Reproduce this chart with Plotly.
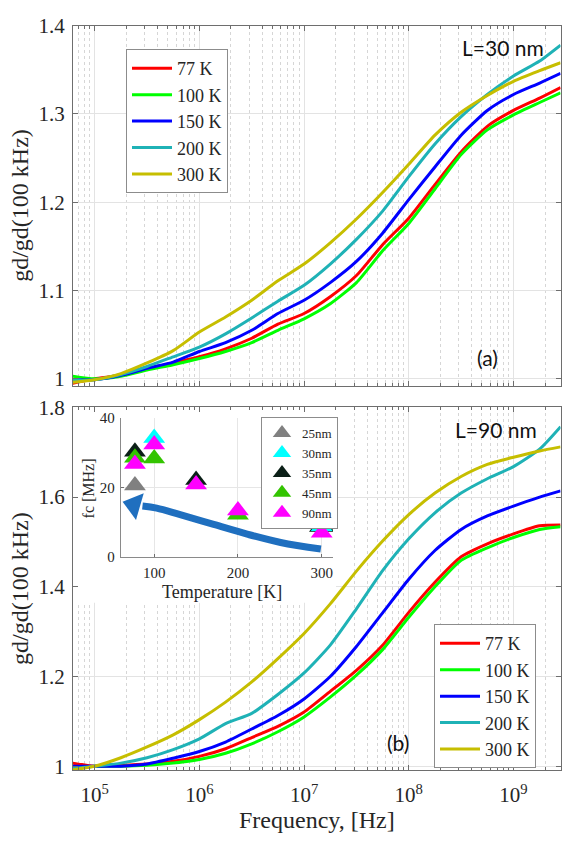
import plotly.graph_objects as go

# ---------------- data ----------------
log10_freq = [4.79, 5.0, 5.25, 5.5, 5.75, 6.0, 6.25, 6.5, 6.75, 7.0,
              7.25, 7.5, 7.75, 8.0, 8.25, 8.5, 8.75, 9.0, 9.25, 9.45]
temps = ["77 K", "100 K", "150 K", "200 K", "300 K"]
curve_colors = ["#ff0000", "#00ff00", "#0000ff", "#1fb2b6", "#c6be00"]

# (a) L = 30 nm
top_77K = [0.995, 1.000, 1.004, 1.011, 1.018, 1.025, 1.034, 1.046, 1.062, 1.074,
           1.093, 1.117, 1.152, 1.182, 1.220, 1.257, 1.286, 1.304, 1.318, 1.330]
top_100K = [1.003, 1.000, 1.003, 1.010, 1.016, 1.023, 1.031, 1.041, 1.055, 1.068,
            1.085, 1.109, 1.145, 1.176, 1.215, 1.254, 1.282, 1.299, 1.313, 1.324]
top_150K = [0.999, 0.999, 1.004, 1.012, 1.019, 1.031, 1.041, 1.055, 1.074, 1.089,
            1.109, 1.133, 1.165, 1.203, 1.240, 1.276, 1.304, 1.322, 1.335, 1.346]
top_200K = [0.998, 0.999, 1.005, 1.014, 1.025, 1.036, 1.051, 1.069, 1.088, 1.106,
            1.130, 1.158, 1.190, 1.229, 1.266, 1.297, 1.322, 1.343, 1.360, 1.378]
top_300K = [0.996, 0.999, 1.006, 1.018, 1.032, 1.053, 1.070, 1.089, 1.111, 1.130,
            1.154, 1.181, 1.211, 1.243, 1.276, 1.302, 1.321, 1.337, 1.349, 1.358]

# (b) L = 90 nm
bot_77K = [1.007, 1.000, 1.002, 1.005, 1.011, 1.022, 1.039, 1.064, 1.089, 1.121,
           1.167, 1.214, 1.270, 1.343, 1.410, 1.467, 1.496, 1.518, 1.536, 1.538]
bot_100K = [0.997, 1.000, 1.000, 1.002, 1.007, 1.015, 1.029, 1.050, 1.077, 1.110,
            1.154, 1.203, 1.260, 1.332, 1.400, 1.459, 1.487, 1.510, 1.528, 1.534]
bot_150K = [1.000, 1.000, 1.000, 1.005, 1.018, 1.033, 1.054, 1.083, 1.113, 1.150,
            1.200, 1.267, 1.342, 1.417, 1.481, 1.528, 1.558, 1.580, 1.600, 1.614]
bot_200K = [0.995, 1.000, 1.007, 1.019, 1.037, 1.061, 1.095, 1.118, 1.160, 1.208,
            1.270, 1.351, 1.436, 1.507, 1.565, 1.609, 1.641, 1.668, 1.707, 1.757]
bot_300K = [0.992, 1.000, 1.019, 1.043, 1.070, 1.104, 1.143, 1.188, 1.240, 1.296,
            1.362, 1.435, 1.502, 1.561, 1.609, 1.646, 1.673, 1.689, 1.703, 1.712]

# inset: cut-off frequency vs temperature
inset_temp = [77, 100, 150, 200, 300]
fc_25nm = [20.6, None, None, None, None]
fc_30nm = [None, 34.3, None, None, 8.9]
fc_35nm = [30.3, None, 22.2, None, 8.9]
fc_45nm = [28.6, 28.4, None, 12.2, None]
fc_90nm = [26.8, 32.4, 20.9, 13.4, 7.0]
inset_labels = ["25nm", "30nm", "35nm", "45nm", "90nm"]
inset_colors = ["#808080", "#00ffff", "#0b1f17", "#33c400", "#ff00ff"]

# trend arrow drawn in the inset (temperature, fc)
arrow_T = [299, 251, 211, 171, 131, 103, 86]
arrow_fc = [2.3, 4.2, 6.6, 9.4, 12.2, 14.1, 14.7]
arrow_head_T = [95, 76]
arrow_head_fc = [13.7, 15.0]

x_major = [1e5, 1e6, 1e7, 1e8, 1e9]
x_major_text = ["10<sup>5</sup>", "10<sup>6</sup>", "10<sup>7</sup>", "10<sup>8</sup>", "10<sup>9</sup>"]
top_yticks = [1.0, 1.1, 1.2, 1.3, 1.4]
top_ytext = ["1", "1.1", "1.2", "1.3", "1.4"]
bot_yticks = [1.0, 1.2, 1.4, 1.6, 1.8]
bot_ytext = ["1", "1.2", "1.4", "1.6", "1.8"]

# ---------------- figure ----------------
W, H = 562, 844
X_LOG_RANGE = [4.793, 9.449]
BOT_Y_RANGE = [0.991, 1.8]
PX_LEFT, PX_RIGHT = 73, 560.5
PY_BOT_TOP, PY_BOT_BOTTOM = 405, 776.7

freq = [10 ** v for v in log10_freq]
minor_vals = [k * 10 ** n for n in range(4, 10) for k in range(2, 10)]

SERIF = "Liberation Serif"
SANS = "Lato"
AXC = "#6e6e6e"
TXT = "#262626"

fig = go.Figure()

# white panel behind the inset (covers main grid), placed via pixel -> data mapping
def px_to_logx(px):
    return X_LOG_RANGE[0] + (px - PX_LEFT) / (PX_RIGHT - PX_LEFT) * (X_LOG_RANGE[1] - X_LOG_RANGE[0])

def py_to_boty(py):
    return BOT_Y_RANGE[1] - (py - PY_BOT_TOP) / (PY_BOT_BOTTOM - PY_BOT_TOP) * (BOT_Y_RANGE[1] - BOT_Y_RANGE[0])

bx0, bx1 = 10 ** px_to_logx(PX_LEFT), 10 ** px_to_logx(336)
by0, by1 = py_to_boty(605), py_to_boty(PY_BOT_TOP)
fig.add_trace(go.Scatter(x=[bx0, bx1, bx1, bx0, bx0], y=[by0, by0, by1, by1, by0],
                         mode="lines", fill="toself", fillcolor="white",
                         line=dict(width=0, color="white"), showlegend=False,
                         hoverinfo="skip", xaxis="x2", yaxis="y2"))

top_series = [top_77K, top_100K, top_150K, top_200K, top_300K]
bot_series = [bot_77K, bot_100K, bot_150K, bot_200K, bot_300K]

for name, col, ys in zip(temps, curve_colors, top_series):
    fig.add_trace(go.Scatter(x=freq, y=ys, mode="lines", name=name,
                             line=dict(color=col, width=3, shape="spline", smoothing=0.6),
                             xaxis="x", yaxis="y", legend="legend"))
for name, col, ys in zip(temps, curve_colors, bot_series):
    fig.add_trace(go.Scatter(x=freq, y=ys, mode="lines", name=name,
                             line=dict(color=col, width=3, shape="spline", smoothing=0.6),
                             xaxis="x2", yaxis="y2", legend="legend2"))

# inset: arrow
fig.add_trace(go.Scatter(x=arrow_T, y=arrow_fc, mode="lines", showlegend=False,
                         line=dict(color="#1f6fbf", width=7, shape="spline"),
                         xaxis="x3", yaxis="y3", hoverinfo="skip"))
fig.add_trace(go.Scatter(x=arrow_head_T, y=arrow_head_fc, mode="markers", showlegend=False,
                         marker=dict(symbol="triangle-up", size=[0, 24], color="#1f6fbf",
                                     angleref="previous", opacity=1, line=dict(width=0)),
                         xaxis="x3", yaxis="y3", hoverinfo="skip"))

inset_series = [fc_25nm, fc_30nm, fc_35nm, fc_45nm, fc_90nm]
draw_order = [0, 2, 1, 3, 4]
for i in draw_order:
    sizes = [19] * len(inset_temp)
    if i == 2:
        sizes[-1] = 22
    fig.add_trace(go.Scatter(x=inset_temp, y=inset_series[i], mode="markers",
                             name=inset_labels[i], legendrank=i + 1,
                             marker=dict(symbol="triangle-up", size=sizes, opacity=1,
                                         color=inset_colors[i], line=dict(width=0)),
                             xaxis="x3", yaxis="y3", legend="legend3"))

x_dom = [PX_LEFT / W, PX_RIGHT / W]

def main_x(show_labels):
    return dict(type="log", range=X_LOG_RANGE, domain=x_dom,
                tickmode="array", tickvals=x_major, ticktext=x_major_text,
                showticklabels=show_labels, ticks="inside", ticklen=5, tickcolor=AXC,
                showline=True, linecolor=AXC, linewidth=1, mirror="ticks",
                showgrid=True, gridcolor="#e3e3e3", gridwidth=1, zeroline=False,
                tickfont=dict(family=SERIF, size=21, color=TXT), ticklabelstandoff=6,
                minor=dict(tickmode="array", tickvals=minor_vals, ticks="inside", ticklen=3,
                           tickcolor=AXC, showgrid=True, gridcolor="#d6d6d6",
                           griddash="dot", gridwidth=1))

def main_y(rng, dom, tv, tt):
    return dict(range=rng, domain=dom, tickmode="array", tickvals=tv, ticktext=tt,
                ticks="inside", ticklen=5, tickcolor=AXC,
                showline=True, linecolor=AXC, linewidth=1, mirror="ticks",
                showgrid=True, gridcolor="#e3e3e3", gridwidth=1, zeroline=False,
                tickfont=dict(family=SERIF, size=21, color=TXT), ticklabelstandoff=3)

xa1 = main_x(False); xa1["anchor"] = "y"
xa2 = main_x(True); xa2["anchor"] = "y2"
ya1 = main_y([0.992, 1.4], [(H - 383) / H, (H - 14) / H], top_yticks, top_ytext); ya1["anchor"] = "x"
ya2 = main_y(BOT_Y_RANGE, [(H - PY_BOT_BOTTOM) / H, (H - PY_BOT_TOP) / H], bot_yticks, bot_ytext); ya2["anchor"] = "x2"

xa3 = dict(range=[60, 313.5], domain=[120.7 / W, 333 / W], anchor="y3",
           tickmode="array", tickvals=[100, 200, 300], ticks="inside", ticklen=3,
           tickcolor=AXC, showline=True, linecolor="#8a8a8a", linewidth=1, mirror=False,
           showgrid=True, gridcolor="#e6e6e6", zeroline=False, ticklabelstandoff=2,
           tickfont=dict(family=SERIF, size=15, color=TXT))
ya3 = dict(range=[0, 40], domain=[(H - 558.3) / H, (H - 416) / H], anchor="x3",
           tickmode="array", tickvals=[0, 20, 40], ticks="inside", ticklen=3,
           tickcolor=AXC, showline=True, linecolor="#8a8a8a", linewidth=1, mirror=False,
           showgrid=True, gridcolor="#e6e6e6", zeroline=False, ticklabelstandoff=2,
           tickfont=dict(family=SERIF, size=15, color=TXT))

legend_common = dict(bgcolor="white", bordercolor="#8c8c8c", borderwidth=1,
                     xanchor="left", yanchor="top", tracegroupgap=0, itemwidth=40,
                     font=dict(family=SERIF, size=18, color=TXT))

def note(text, px, py, family, size, angle=0):
    return dict(text=text, x=px / W, y=(H - py) / H, xref="paper", yref="paper",
                xanchor="center", yanchor="middle", textangle=angle, showarrow=False,
                font=dict(family=family, size=size, color="#111" if family == SANS else TXT))

fig.update_layout(
    width=W, height=H, margin=dict(l=0, r=0, t=0, b=0),
    paper_bgcolor="white", plot_bgcolor="white",
    xaxis=xa1, yaxis=ya1, xaxis2=xa2, yaxis2=ya2, xaxis3=xa3, yaxis3=ya3,
    legend=dict(x=126 / W, y=(H - 38) / H, **legend_common),
    legend2=dict(x=434 / W, y=(H - 627) / H, **legend_common),
    legend3=dict(x=261 / W, y=(H - 415) / H, bgcolor="white", bordercolor="#8c8c8c",
                 borderwidth=1, xanchor="left", yanchor="top", tracegroupgap=0,
                 itemwidth=30, font=dict(family=SERIF, size=13, color=TXT)),
    annotations=[
        note("L=30 nm", 503, 36, SANS, 21),
        note("(a)", 487, 354, SANS, 21),
        note("L=90 nm", 496, 428, SANS, 21),
        note("(b)", 398, 748, SANS, 21),
        note("gd/gd(100 kHz)", 20, 198.5, SERIF, 24, -90),
        note("gd/gd(100 kHz)", 20, 591, SERIF, 24, -90),
        note("Frequency, [Hz]", 317, 828, SERIF, 24),
        note("fc [MHz]", 88, 488, SERIF, 16, -90),
        note("Temperature [K]", 222, 594, SERIF, 18),
    ],
)

fig.write_html("out.html")
